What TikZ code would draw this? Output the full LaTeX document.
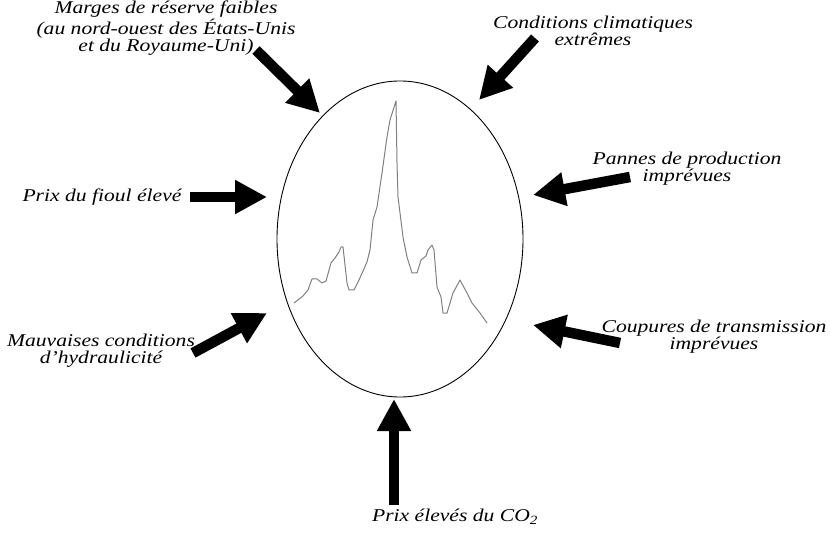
\documentclass[tikz,border=0pt]{standalone}
\usepackage{fontspec}
\setmainfont{Liberation Serif}[FakeStretch=1.2]
\usetikzlibrary{arrows.meta,shapes.geometric}

\begin{document}
\begin{tikzpicture}[x=1bp,y=-1bp,
  cause/.style={align=center,inner sep=0pt,font=\fontsize{18bp}{17bp}\selectfont\itshape},
  bigarrow/.style={line width=10.5bp,-{Triangle[length=32bp 0,width=32bp 0]}},
  spike/.style={black!50,line width=1bp,line join=round}]
\useasboundingbox (0,0) rectangle (830,535);
\node[draw,ellipse,line width=0.9bp,inner sep=0pt,minimum width=246bp,minimum height=316bp] (market) at (400,239) {};
\draw[spike] plot coordinates {(294,303) (303,296) (308,290) (312,279) (317,279) (322,283) (326,281)
  (331,263) (335,258) (339,252) (341,247) (343,247) (347,283) (349,290) (354,290) (359,280)
  (367,262) (370,250) (373,220) (377,207) (382,173) (387,137) (390,120) (396,101) (397,163)
  (398,197) (403,237) (407,257) (412,273) (417,273) (421,260) (426,256) (428,250) (432,245)
  (434,250) (437,287) (441,297) (443,313) (447,313) (453,293) (460,280) (467,293) (472,303)
  (480,313) (487,323)};
\node[cause] (reserve) at (166,28) {Marges de réserve faibles\\(au nord-ouest des États-Unis\\et du Royaume-Uni)};
\node[cause] (climate) at (593,31) {Conditions climatiques\\extrêmes};
\node[cause] (outages) at (687,169) {Pannes de production\\imprévues};
\node[cause] (transmission) at (714,337) {Coupures de transmission\\imprévues};
\node[cause] (fuel) at (102,197) {Prix du fioul élevé};
\node[cause] (hydro) at (101,351) {Mauvaises conditions\\d’hydraulicité};
\node[cause] (carbon) at (455,517) {Prix élevés du CO\textsubscript{2}};
\coordinate (reserve-tail) at (256,50);
\coordinate (reserve-tip) at (320,113);
\coordinate (climate-tail) at (535,38);
\coordinate (climate-tip) at (479,100);
\coordinate (outages-tail) at (630,177);
\coordinate (outages-tip) at (533,195);
\coordinate (transmission-tail) at (620,343);
\coordinate (transmission-tip) at (533,325);
\coordinate (fuel-tail) at (190,197);
\coordinate (fuel-tip) at (267,197);
\coordinate (hydro-tail) at (193,353);
\coordinate (hydro-tip) at (267,313);
\coordinate (carbon-tail) at (394,505);
\coordinate (carbon-tip) at (394,399);
\draw[bigarrow] (reserve-tail) -- (reserve-tip);
\draw[bigarrow] (climate-tail) -- (climate-tip);
\draw[bigarrow] (outages-tail) -- (outages-tip);
\draw[bigarrow] (transmission-tail) -- (transmission-tip);
\draw[bigarrow] (fuel-tail) -- (fuel-tip);
\draw[bigarrow] (hydro-tail) -- (hydro-tip);
\draw[bigarrow] (carbon-tail) -- (carbon-tip);
\end{tikzpicture}
\end{document}
